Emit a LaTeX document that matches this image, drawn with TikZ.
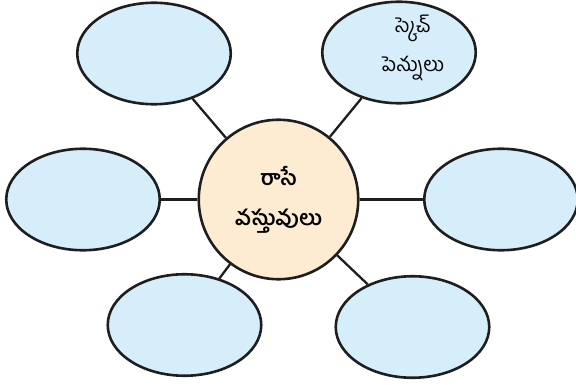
\documentclass[tikz,border=0pt]{standalone}
\usepackage{fontspec}
\newfontfamily\telugu[Script=Telugu]{Hind Guntur}
\usetikzlibrary{shapes.geometric}
\definecolor{bubbleblue}{RGB}{214,237,250}
\definecolor{centerpeach}{RGB}{254,236,210}
\definecolor{inkline}{RGB}{30,30,30}
\begin{document}
\begin{tikzpicture}[x=1pt,y=-1pt,
  bubble/.style={ellipse, draw=inkline, line width=2.6pt, fill=bubbleblue,
    minimum width=153.5pt, minimum height=101.5pt, inner sep=0pt},
  bubbletext/.style={align=center, inner sep=0pt,
    font=\telugu\fontsize{20}{39}\selectfont},
  hub/.style={circle, draw=inkline, line width=2.6pt, fill=centerpeach,
    minimum size=159.5pt, inner sep=0pt, align=center,
    font=\telugu\bfseries\fontsize{21}{40}\selectfont},
  link/.style={draw=inkline, line width=2.3pt}]
\useasboundingbox (0,0) rectangle (576,385);
\node[hub] (c) at (278.5,199.5) {రాసే\\వస్తువులు};
\node[bubble] (tl) at (154,53.5) {};
\node[bubble] (tr) at (399,52.5) {};
\node[bubbletext] (trlabel) at ([xshift=14pt,yshift=5pt]tr.center) {స్కెచ్\\పెన్నులు};
\node[bubble] (l) at (83,199.5) {};
\node[bubble] (r) at (501,199.5) {};
\node[bubble] (bl) at (184.5,325) {};
\node[bubble] (br) at (412.5,327) {};
\draw[link] (c) -- (tl);
\draw[link] (c) -- (tr);
\draw[link] (c) -- (l);
\draw[link] (c) -- (r);
\draw[link] (c) -- (bl);
\draw[link] (c) -- (br);
\end{tikzpicture}
\end{document}
